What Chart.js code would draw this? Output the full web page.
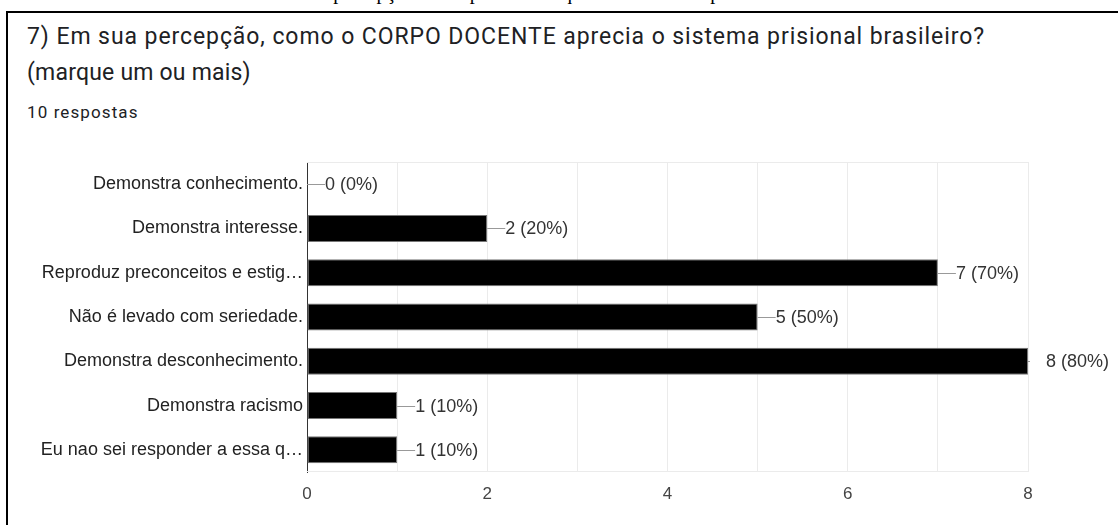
<!DOCTYPE html>
<html>
<head>
<meta charset="utf-8">
<script src="https://cdn.jsdelivr.net/npm/chart.js@4"></script>
<style>
  html, body { margin: 0; padding: 0; background: #fff; overflow: hidden; }
  body { width: 1118px; height: 525px; position: relative; }
  .caption { position: absolute; left: 90px; top: -19px; font: 20px "Liberation Serif", serif; color: #000; white-space: nowrap; }
  .box { position: absolute; left: 6px; top: 11px; width: 1130px; height: 540px; border: 2px solid #000; box-sizing: border-box; }
  .title { position: absolute; left: 27px; top: 19px; font: 23px Roboto, sans-serif; color: #202124; line-height: 36px; white-space: nowrap; }
  .title .l1 { letter-spacing: 0.92px; }
  .title .l2 { letter-spacing: 0.2px; }
  .sub { position: absolute; left: 27px; top: 102px; font: 17px Roboto, sans-serif; letter-spacing: 1.1px; color: #202124; }
  #wrap { position: absolute; left: 8px; top: 140px; width: 1110px; height: 385px; }
</style>
</head>
<body>
<div class="caption">Gráfico 7 – Resultado sobre a percepção do corpo docente quanto ao sistema prisional</div>
<div class="box"></div>
<div class="title"><span class="l1">7) Em sua percepção, como o CORPO DOCENTE aprecia o sistema prisional brasileiro?</span><br><span class="l2">(marque um ou mais)</span></div>
<div class="sub">10 respostas</div>
<div id="wrap"><canvas id="chart"></canvas></div>
<script>
// respostas por opção
const categories = [
  'Demonstra conhecimento.',
  'Demonstra interesse.',
  'Reproduz preconceitos e estig…',
  'Não é levado com seriedade.',
  'Demonstra desconhecimento.',
  'Demonstra racismo',
  'Eu nao sei responder a essa q…'
];
const counts = [0, 2, 7, 5, 8, 1, 1];
const percents = [0, 20, 70, 50, 80, 10, 10];
const xTicks = [0, 2, 4, 6, 8];

// rótulo "—n (p%)" na ponta de cada barra
const valueLabels = {
  id: 'valueLabels',
  afterDatasetsDraw(chart) {
    const ctx = chart.ctx;
    const area = chart.chartArea;
    const meta = chart.getDatasetMeta(0);
    ctx.save();
    meta.data.forEach((bar, i) => {
      const x = bar.x, y = bar.y;
      ctx.save();
      ctx.beginPath();
      ctx.rect(area.left, area.top, area.right - area.left + 2, area.bottom - area.top);
      ctx.clip();
      ctx.strokeStyle = '#999';
      ctx.lineWidth = 1;
      ctx.beginPath();
      ctx.moveTo(x, Math.round(y) + 0.5);
      ctx.lineTo(x + 18, Math.round(y) + 0.5);
      ctx.stroke();
      ctx.restore();
      ctx.fillStyle = '#333';
      ctx.font = '18px "Liberation Sans", Arial, sans-serif';
      ctx.textBaseline = 'middle';
      ctx.textAlign = 'left';
      ctx.fillText(counts[i] + ' (' + percents[i] + '%)', x + 18, y + 1);
    });
    ctx.restore();
  }
};

new Chart(document.getElementById('chart'), {
  type: 'bar',
  data: {
    labels: categories,
    datasets: [{
      data: counts,
      backgroundColor: '#000',
      borderColor: '#777',
      borderWidth: 1,
      borderSkipped: false,
      barPercentage: 0.61,
      categoryPercentage: 1
    }]
  },
  options: {
    indexAxis: 'y',
    responsive: true,
    maintainAspectRatio: false,
    animation: false,
    layout: { padding: { top: 22, right: 90, bottom: 0, left: 0 } },
    plugins: { legend: { display: false }, tooltip: { enabled: false } },
    scales: {
      x: {
        min: 0,
        max: 8,
        afterFit(scale) { scale.height = 53; },
        afterBuildTicks(scale) {
          scale.ticks = [0, 1, 2, 3, 4, 5, 6, 7, 8].map(v => ({ value: v }));
        },
        ticks: {
          autoSkip: false,
          maxRotation: 0,
          padding: 12,
          color: '#444',
          font: { family: '"Liberation Sans", Arial, sans-serif', size: 17 },
          callback: v => xTicks.includes(v) ? String(v) : ''
        },
        grid: { color: '#ebebeb', drawTicks: false },
        border: { display: false }
      },
      y: {
        afterFit(scale) { scale.width = 299; },
        ticks: {
          padding: 4,
          color: '#222',
          font: { family: '"Liberation Sans", Arial, sans-serif', size: 18 }
        },
        grid: { display: false, drawTicks: false },
        border: { display: true, color: '#333', width: 1 }
      }
    }
  },
  plugins: [valueLabels, {
    id: 'frame',
    beforeDatasetsDraw(chart) {
      const a = chart.chartArea, ctx = chart.ctx;
      ctx.save();
      ctx.strokeStyle = '#ebebeb';
      ctx.lineWidth = 1;
      ctx.beginPath();
      ctx.moveTo(a.left, Math.round(a.top) + 0.5);
      ctx.lineTo(a.right, Math.round(a.top) + 0.5);
      ctx.moveTo(a.left, Math.round(a.bottom) - 0.5);
      ctx.lineTo(a.right, Math.round(a.bottom) - 0.5);
      ctx.stroke();
      ctx.restore();
    }
  }]
});
</script>
</body>
</html>
